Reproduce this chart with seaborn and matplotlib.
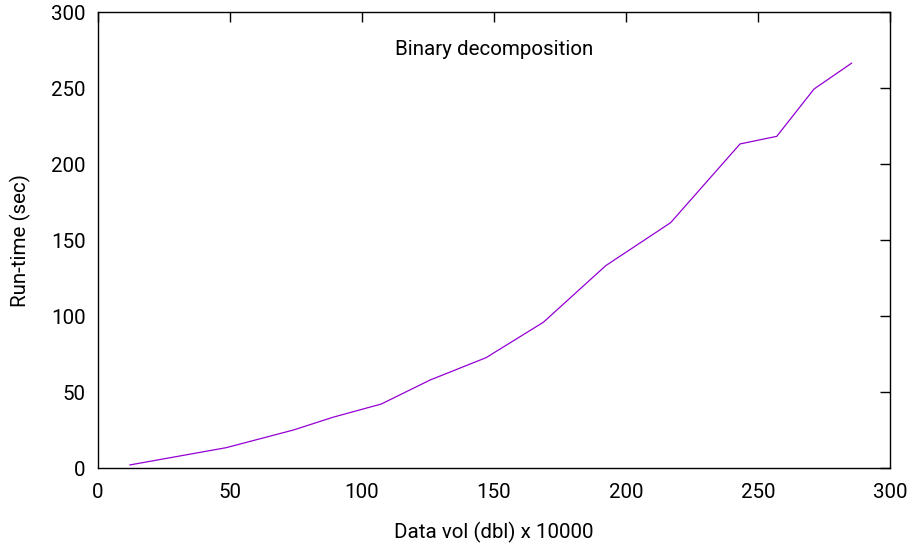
import numpy as np
import pandas as pd
import seaborn as sns
import matplotlib.pyplot as plt

# Data
data_vol = [12, 48.6, 74, 89, 107.3, 125.8, 147, 168.7, 192.3, 216.9, 243.2, 257.1, 271.2, 285.5]
run_time = [2, 13.4, 25, 33.4, 42.1, 57.9, 72.6, 95.9, 133.1, 161.4, 213.2, 218.2, 249.3, 266.4]

df = pd.DataFrame({"vol": data_vol, "time": run_time})

sns.set_style("white")
plt.rcParams['font.family'] = ['Roboto', 'DejaVu Sans']
plt.rcParams['font.size'] = 14.8
plt.rcParams['text.color'] = 'black'
plt.rcParams['axes.labelcolor'] = 'black'
plt.rcParams['xtick.color'] = 'black'
plt.rcParams['ytick.color'] = 'black'

fig, ax = plt.subplots(figsize=(9.18, 5.43), dpi=100)
fig.subplots_adjust(left=0.1068, right=0.9695, top=0.9779, bottom=0.1381)

sns.lineplot(data=df, x="vol", y="time", color="#9400D3", linewidth=0.9, ax=ax)

ax.set_xlim(0, 300)
ax.set_ylim(0, 300)
ax.set_xticks(np.arange(0, 301, 50))
ax.set_yticks(np.arange(0, 301, 50))
ax.tick_params(direction="in", length=7, width=1, top=True, right=True,
               labelsize=14.8, color="black", labelcolor="black")
ax.tick_params(axis="x", pad=11)
ax.tick_params(axis="y", pad=9)
for s in ax.spines.values():
    s.set_visible(True)
    s.set_color("black")
    s.set_linewidth(1)

ax.set_xlabel("Data vol (dbl) x 10000", fontsize=14.8, labelpad=14)
ax.set_ylabel("Run-time (sec)", fontsize=14.8, labelpad=14)
ax.text(0.5, 0.918, "Binary decomposition", transform=ax.transAxes,
        ha="center", va="center", fontsize=14.8, color="black")

fig.savefig("out.png", dpi=100)
